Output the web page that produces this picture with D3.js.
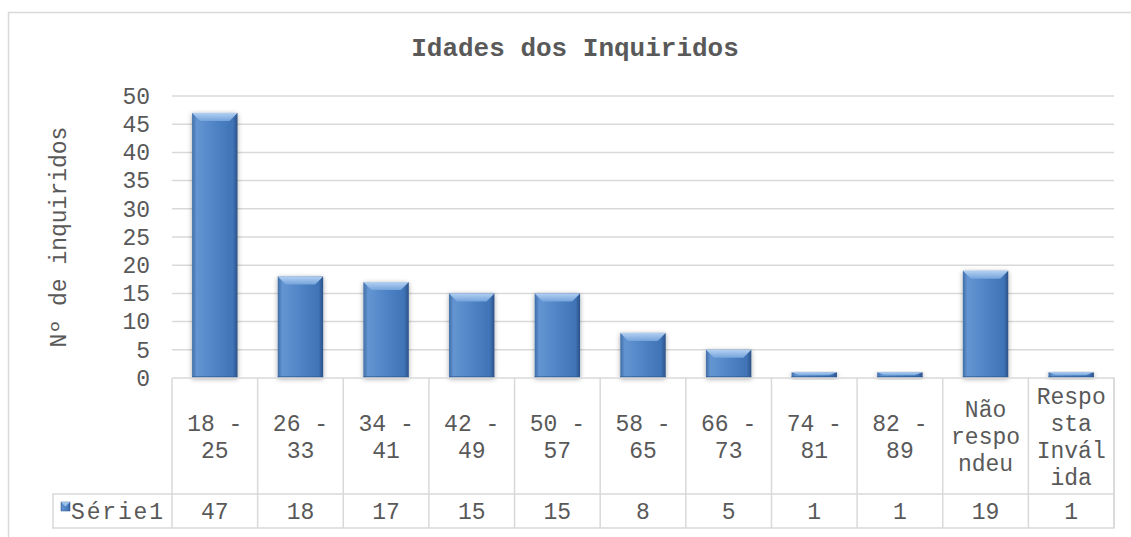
<!DOCTYPE html>
<meta charset="utf-8">
<script src="https://d3js.org/d3.v7.min.js"></script>
<style>
  body { margin: 0; background: #fff; }
  text { font-family: "Liberation Mono", "DejaVu Sans Mono", monospace; fill: #595959; }
</style>
<div id="chart_area"></div>
<script>
    // data
    let categories = ["18 - 25", "26 - 33", "34 - 41", "42 - 49", "50 - 57", "58 - 65",
                      "66 - 73", "74 - 81", "82 - 89", "Não respondeu", "Resposta Inválida"];
    let values = [47, 18, 17, 15, 15, 8, 5, 1, 1, 19, 1];
    let yTicks = [0, 5, 10, 15, 20, 25, 30, 35, 40, 45, 50];
    let seriesName = "Série1";
    let chartTitle = "Idades dos Inquiridos";
    let yTitle = "Nº de inquiridos";

    let width = 1131, height = 537;
    let plot = {left: 172, right: 1114, top: 96, bottom: 378};
    let rowSplit = 494, tableBottom = 528, legendLeft = 53;
    let gridColor = "#d9d9d9";

    let svg = d3.select("#chart_area").append("svg")
        .attr("width", width).attr("height", height);

    // gradients for the bevelled bars
    let defs = svg.append("defs");
    let bodyGrad = defs.append("linearGradient").attr("id", "barBody")
        .attr("x1", 0).attr("x2", 1).attr("y1", 0).attr("y2", 0);
    bodyGrad.append("stop").attr("offset", "0%").attr("stop-color", "#3f6ea8");
    bodyGrad.append("stop").attr("offset", "10%").attr("stop-color", "#6495d2");
    bodyGrad.append("stop").attr("offset", "50%").attr("stop-color", "#4f84c6");
    bodyGrad.append("stop").attr("offset", "90%").attr("stop-color", "#3f73b6");
    bodyGrad.append("stop").attr("offset", "100%").attr("stop-color", "#2c5287");
    let topGrad = defs.append("linearGradient").attr("id", "barTop")
        .attr("x1", 0).attr("x2", 0).attr("y1", 0).attr("y2", 1);
    topGrad.append("stop").attr("offset", "0%").attr("stop-color", "#b3d0f2");
    topGrad.append("stop").attr("offset", "100%").attr("stop-color", "#75a4db");
    let shadow = defs.append("filter").attr("id", "shadow")
        .attr("x", "-30%").attr("y", "-10%").attr("width", "160%").attr("height", "130%");
    shadow.append("feDropShadow").attr("dx", 0).attr("dy", 1).attr("stdDeviation", 2.5)
        .attr("flood-color", "#000").attr("flood-opacity", 0.35);

    // outer chart border (cut at right and bottom)
    svg.append("path")
        .attr("d", "M8.5,537V12.5H1131")
        .attr("fill", "none").attr("stroke", gridColor).attr("stroke-width", 1.5);

    let x = d3.scaleBand().domain(categories).range([plot.left, plot.right]).paddingInner(0).paddingOuter(0);
    let y = d3.scaleLinear().domain([0, 50]).range([plot.bottom, plot.top]);

    // gridlines
    svg.append("g").selectAll("line").data(yTicks.filter(d => d > 0)).join("line")
        .attr("x1", plot.left).attr("x2", plot.right)
        .attr("y1", d => y(d)).attr("y2", d => y(d))
        .attr("stroke", gridColor).attr("stroke-width", 1.5);

    // y axis labels
    let yAxis = d3.axisLeft(y).tickValues(yTicks).tickSize(0).tickPadding(22);
    let yg = svg.append("g").attr("transform", "translate(" + plot.left + ",0)").call(yAxis);
    yg.select(".domain").remove();
    yg.attr("font-family", null);
    yg.selectAll("text").style("font-size", "23px").attr("fill", "#595959");

    // bars
    let bw = x.bandwidth() * 0.53;
    let bars = svg.append("g").selectAll("g").data(values).join("g")
        .attr("transform", (d, i) => "translate(" + (x(categories[i]) + (x.bandwidth() - bw) / 2) + ",0)");
    bars.append("rect")
        .attr("x", 0).attr("y", d => y(d)).attr("width", bw).attr("height", d => y(0) - y(d))
        .attr("fill", "url(#barBody)").attr("filter", "url(#shadow)");
    bars.append("path")
        .attr("d", d => {
            let t = y(d), h = Math.min(8, (y(0) - y(d)) / 2), e = Math.min(8, bw / 4);
            return "M0," + t + "H" + bw + "L" + (bw - e) + "," + (t + h) + "H" + e + "Z";
        })
        .attr("fill", "url(#barTop)");
    bars.append("rect")
        .attr("x", 0).attr("y", d => y(0) - 2).attr("width", bw).attr("height", 2)
        .attr("fill", "#2f5a93").attr("opacity", 0.6);

    // data table
    let table = svg.append("g").attr("stroke", gridColor).attr("stroke-width", 1.5).attr("fill", "none");
    table.append("path").attr("d",
        "M" + plot.left + "," + plot.bottom + "H" + plot.right + "V" + tableBottom +
        "H" + legendLeft + "V" + rowSplit + "H" + plot.right);
    table.selectAll("line.v").data(d3.range(categories.length + 1)).join("line")
        .attr("x1", i => plot.left + i * x.step()).attr("x2", i => plot.left + i * x.step())
        .attr("y1", plot.bottom).attr("y2", tableBottom);

    // wrap a label into lines of at most n characters
    function wrap(label, n) {
        let lines = [], cur = "";
        label.split(" ").forEach(w => {
            if (w.length > n) {
                if (cur) { lines.push(cur); cur = ""; }
                for (let k = 0; k < w.length; k += n) lines.push(w.slice(k, k + n));
                return;
            }
            let next = cur ? cur + " " + w : w;
            if (next.length > n) { lines.push(cur); cur = w; } else cur = next;
        });
        if (cur) lines.push(cur);
        return lines;
    }

    let lineH = 27, rowMid = (plot.bottom + rowSplit) / 2;
    categories.forEach((c, i) => {
        let lines = wrap(c, 5);
        let t = svg.append("text")
            .attr("x", x(c) + x.bandwidth() / 2)
            .attr("text-anchor", "middle")
            .style("font-size", "23px");
        lines.forEach((l, k) => {
            t.append("tspan").attr("x", x(c) + x.bandwidth() / 2)
                .attr("y", rowMid + (k - (lines.length - 1) / 2) * lineH + 8)
                .text(l);
        });
    });

    svg.append("g").selectAll("text").data(values).join("text")
        .attr("x", (d, i) => x(categories[i]) + x.bandwidth() / 2)
        .attr("y", (rowSplit + tableBottom) / 2 + 8)
        .attr("text-anchor", "middle")
        .style("font-size", "23px")
        .text(d => d);

    // legend key in the table
    svg.append("rect").attr("x", 61).attr("y", 502).attr("width", 9).attr("height", 9)
        .attr("fill", "url(#barBody)").attr("stroke", "#2c5287").attr("stroke-width", 0.5);
    svg.append("path").attr("d", "M61,502H70L65.5,506.5Z").attr("fill", "#9dc0ea");
    svg.append("text").attr("x", 71).attr("y", (rowSplit + tableBottom) / 2 + 8)
        .attr("textLength", 92).attr("lengthAdjust", "spacing")
        .style("font-size", "23px").text(seriesName);

    // titles
    svg.append("text").attr("x", 575).attr("y", 56).attr("text-anchor", "middle")
        .style("font-size", "26px").style("font-weight", "bold").text(chartTitle);
    svg.append("text").attr("transform", "translate(66," + ((plot.top + plot.bottom) / 2) + ") rotate(-90)")
        .attr("text-anchor", "middle").style("font-size", "23px").text(yTitle);
</script>
